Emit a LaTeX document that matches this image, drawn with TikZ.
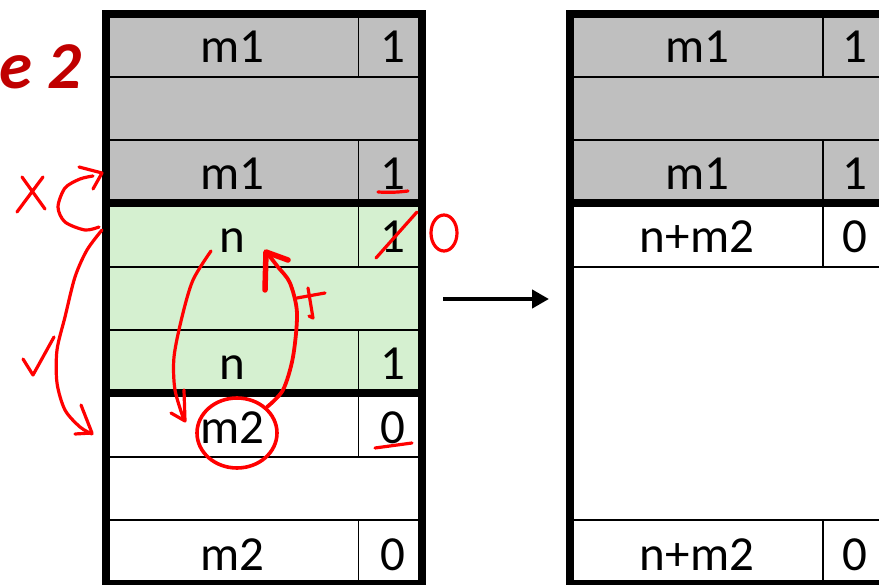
\documentclass[tikz,border=0pt]{standalone}
\usepackage{fontspec}
\setmainfont{Carlito}
\usetikzlibrary{arrows.meta, positioning, calc}
\definecolor{cgrey}{HTML}{BFBFBF}
\definecolor{cgreen}{HTML}{D5F0D0}
\definecolor{cdred}{HTML}{C00000}
\definecolor{cink}{HTML}{FF0000}
\tikzset{
  every picture/.style={x=1pt, y=-1pt},
  cell/.style={font=\fontsize{49}{52}\selectfont, anchor=base, inner sep=0pt},
  gridline/.style={draw=black, line width=1.2pt},
  frame/.style={draw=black, line width=8pt},
  arrow/.style={-{Triangle[length=17pt, width=18pt]}, draw=black, line width=4.5pt},
  title/.style={font=\fontsize{67}{67}\selectfont\bfseries\itshape, text=cdred, anchor=base east, inner sep=0pt},
  ink/.style={draw=cink, line width=3.2pt, line cap=round, line join=round},
}

\begin{document}
\begin{tikzpicture}
  \useasboundingbox (0,0) rectangle (879,585);
  % title, cut at the left edge
  \node[title] (ttl) at (82,89) {e 2};
  % fills of the two memory blocks
  \fill[cgrey] (105,14) rectangle (422,203.5);
  \fill[cgreen] (105,203.5) rectangle (422,393.5);
  \fill[cgrey] (569.5,14) rectangle (890,203.5);
  % thin row lines and column dividers
  \foreach \y in {77,140,267,330,457,520} \draw[gridline] (105,\y) -- (422,\y);
  \foreach \a/\b in {14/77, 140/203.5, 203.5/267, 330/393.5, 393.5/457, 520/584} \draw[gridline] (358.5,\a) -- (358.5,\b);
  \foreach \y in {77,140,267,520} \draw[gridline] (569.5,\y) -- (890,\y);
  \foreach \a/\b in {14/77, 140/203.5, 203.5/267, 520/584} \draw[gridline] (823,\a) -- (823,\b);
  % thick frames
  \draw[frame] (105.5,14) rectangle (422,584);
  \draw[frame] (105.5,203.5) -- (422,203.5) (105.5,393.5) -- (422,393.5);
  \draw[frame] (890,14) -- (569.5,14) -- (569.5,584) -- (890,584) (569.5,203.5) -- (890,203.5);
  % cell texts, left block
  \foreach \nm/\t/\v/\y in {a/m1/1/63, b/m1/1/190, c/n/1/253, d/n/1/380, e/m2/0/443, f/m2/0/570} {
    \node[cell] (L\nm) at (232,\y) {\t};
    \node[cell] (LV\nm) at (393,\y) {\v};
  }
  % cell texts, right block
  \foreach \nm/\t/\v/\y in {a/m1/1/63, b/m1/1/190, c/n+m2/0/253, f/n+m2/0/570} {
    \node[cell] (R\nm) at (697,\y) {\t};
    \node[cell] (RV\nm) at (855,\y) {\v};
  }
  % arrow between the two states
  \coordinate (arrS) at (443,299);
  \coordinate (arrE) at (549,299);
  \draw[arrow] (arrS) -- (arrE);
  % red ink: X and the loop back up to m1
  \draw[ink] (22,177) -- (45,209) (43,177) -- (17,212);
  \draw[ink] plot[smooth] coordinates {(99,227) (85,230) (65,222) (58,207) (65,188) (80,179) (93,176)};
  \draw[ink] (79,167) -- (102,173) -- (93,189);
  % long curve down to m2, and the check mark
  \draw[ink] plot[smooth] coordinates {(102,230) (87,250) (75,277) (65,317) (57,350) (57,383) (65,410) (80,427) (92,434)};
  \draw[ink] (81,405) -- (92,433) -- (75,434);
  \draw[ink] (23,359) -- (33,375) -- (54,337);
  % n down to m2, circle, and m2 back up to n
  \draw[ink] plot[smooth] coordinates {(211,251) (193,280) (182,317) (174,357) (175,390) (184,420)};
  \draw[ink] (171,413) -- (185,421) -- (184,390);
  \draw[ink, line width=3.6pt] (237,433) ellipse [x radius=40pt, y radius=35pt];
  \draw[ink, line width=3.8pt] plot[smooth] coordinates {(267,407) (283,390) (293,357) (297,313) (290,283) (278,267) (267,253)};
  \draw[ink, line width=5.5pt] (265,290) -- (266,252) -- (288,260);
  \draw[ink] (297,298) -- (325,293) (308,288) -- (313,318) -- (309,316);
  % marks on the flag column
  \draw[ink] (378,192) to[bend right=5] (408,191);
  \draw[ink] (376,258) -- (417,212);
  \draw[ink] (444,233) ellipse [x radius=13pt, y radius=18pt];
  \draw[ink] (375,448) -- (412,443);
\end{tikzpicture}
\end{document}
